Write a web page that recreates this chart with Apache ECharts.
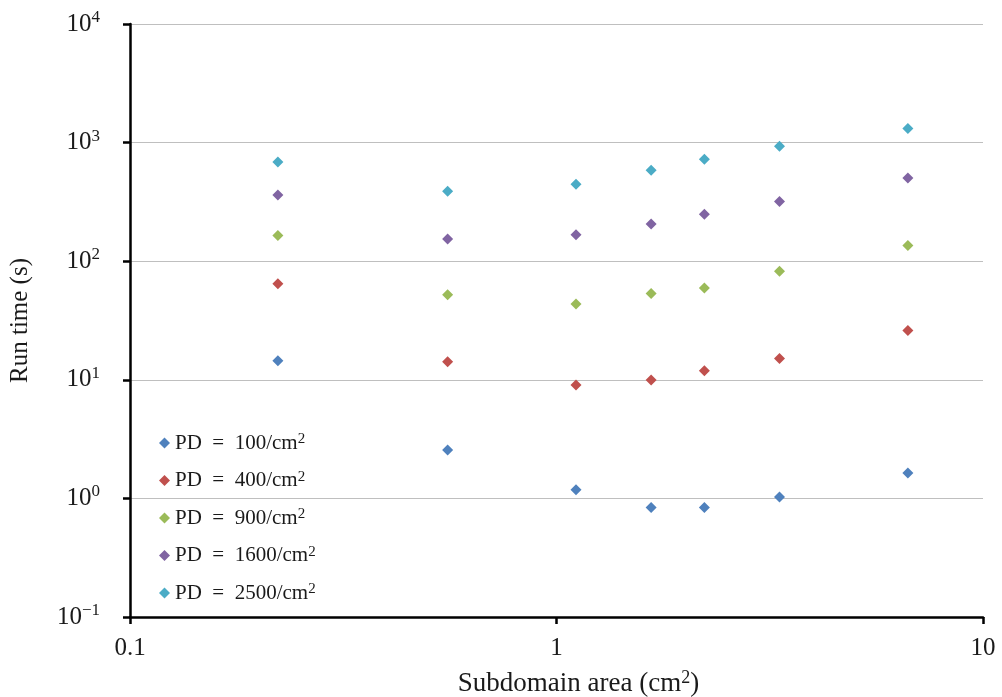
<!DOCTYPE html>
<html>
<head>
<meta charset="utf-8">
<script src="https://cdn.jsdelivr.net/npm/echarts@6/dist/echarts.min.js"></script>
<style>
html,body{margin:0;padding:0;background:#fff;}
#chart{width:1002px;height:697px;}
</style>
</head>
<body>
<div id="chart"></div>
<script>
// Subdomain areas (cm^2)
const areas = [0.2222, 0.5556, 1.1111, 1.6667, 2.2222, 3.3333, 6.6667];
// Point densities (per cm^2)
const densities = [100, 400, 900, 1600, 2500];
// Run times (s)
const pd100  = [14.5, 2.56, 1.18, 0.84, 0.84, 1.03, 1.64];
const pd400  = [64.4, 14.2, 9.03, 9.95, 11.9, 15.1, 26.0];
const pd900  = [164.6, 52.1, 43.5, 53.4, 59.3, 82.4, 135.5];
const pd1600 = [362, 154, 167, 206, 249, 318, 504];
const pd2500 = [687, 389, 446, 585, 724, 932, 1312];
const xTickLabels = ['0.1', '1', '10'];
const yTickExponents = ['−1', '0', '1', '2', '3', '4'];
const colors = ['#4F81BD', '#C0504D', '#9BBB59', '#8064A2', '#4BACC6'];

const seriesValues = [pd100, pd400, pd900, pd1600, pd2500];
const FONT = '"Liberation Serif", "Times New Roman", serif';

const chart = echarts.init(document.getElementById('chart'), null, {renderer: 'canvas'});
const series = densities.map((d, i) => ({
  name: 'PD = ' + d + '/cm2',
  type: 'scatter',
  symbol: 'diamond',
  symbolSize: 11,
  itemStyle: {color: colors[i], opacity: 1},
  data: areas.map((a, j) => [a, seriesValues[i][j]])
}));

chart.setOption({
  animation: false,
  backgroundColor: '#fff',
  grid: {left: 130, right: 19, top: 24, bottom: 80, containLabel: false, outerBoundsMode: 'none'},
  legend: {
    orient: 'vertical',
    left: 154,
    top: 427,
    itemWidth: 11,
    itemHeight: 11,
    itemGap: 16,
    icon: 'diamond',
    data: series.map(s => s.name),
    formatter: name => '{b|' + name.replace(/2$/, '').replace(' = ', '\u2002=\u2002') + '}{s|2}',
    textStyle: {
      rich: {
        b: {fontFamily: FONT, fontSize: 21, color: '#1a1a1a', lineHeight: 22},
        s: {fontFamily: FONT, fontSize: 15, color: '#1a1a1a', lineHeight: 14, verticalAlign: 'top'}
      }
    }
  },
  xAxis: {
    type: 'log',
    logBase: 10,
    min: 0.1,
    max: 10,
    name: '{b|Subdomain area (cm}{s|2}{b|)}',
    nameLocation: 'middle',
    nameGap: 52,
    nameTextStyle: {
      padding: [0, 0, 0, 44],
      rich: {
        b: {fontFamily: FONT, fontSize: 27, color: '#1a1a1a', lineHeight: 30},
        s: {fontFamily: FONT, fontSize: 18, color: '#1a1a1a', lineHeight: 17, verticalAlign: 'top'}
      }
    },
    axisLine: {show: true, onZero: false, lineStyle: {color: '#000', width: 2.5}},
    axisTick: {show: true, length: 7, lineStyle: {color: '#000', width: 2.5}},
    minorTick: {show: false},
    splitLine: {show: false},
    axisLabel: {
      margin: 19,
      fontFamily: FONT,
      fontSize: 25,
      color: '#1a1a1a',
      formatter: (v, i) => xTickLabels[i]
    }
  },
  yAxis: {
    type: 'log',
    logBase: 10,
    min: 0.1,
    max: 10000,
    name: 'Run time (s)',
    nameLocation: 'middle',
    nameGap: 97,
    nameRotate: 90,
    nameTextStyle: {fontFamily: FONT, fontSize: 25, color: '#1a1a1a'},
    axisLine: {show: true, onZero: false, lineStyle: {color: '#000', width: 2.5}},
    axisTick: {show: true, length: 7, lineStyle: {color: '#000', width: 2.5}},
    splitLine: {show: true, lineStyle: {color: '#BFBFBF', width: 1.2}},
    axisLabel: {
      margin: 30,
      formatter: (v, i) => '{b|10}{s|' + yTickExponents[i] + '}',
      rich: {
        b: {fontFamily: FONT, fontSize: 25, color: '#1a1a1a', lineHeight: 30},
        s: {fontFamily: FONT, fontSize: 17, color: '#1a1a1a', lineHeight: 17, verticalAlign: 'top'}
      }
    }
  },
  series: series
});
</script>
</body>
</html>
